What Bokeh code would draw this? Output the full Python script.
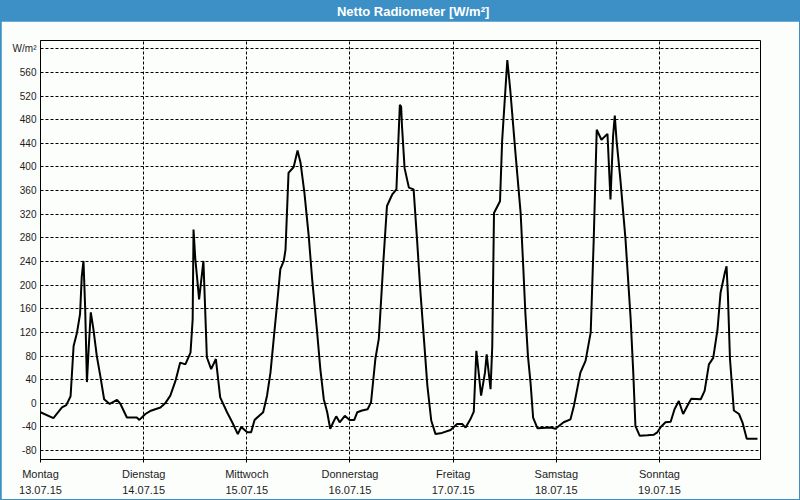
from bokeh.plotting import figure
from bokeh.models import Range1d, FixedTicker
from bokeh.layouts import column
from bokeh.embed import file_html
from bokeh.resources import INLINE
from bokeh.core.properties import value

title_text = "Netto Radiometer [W/m²]"
y_unit = "W/m²"

# hours since Monday 13.07.15 00:00
hours = [0, 3.0, 5.0, 6.0, 7.0, 7.7, 8.5, 9.2, 9.6, 10.0, 10.4, 10.8, 11.2, 11.7, 12.3, 13.1,
         13.9, 14.8, 16.1, 17.8, 18.6, 20.1, 22.4, 23.0, 24.4, 25.5, 27.9, 29.0, 30.2, 31.4,
         32.5, 33.7, 34.9, 35.4, 35.6, 36.0, 36.9, 37.9, 38.5, 38.7, 39.7, 40.8, 41.8, 43.4,
         44.6, 45.9, 46.7, 48.1, 49.0, 49.8, 51.8, 52.7, 53.5, 54.4, 55.0, 55.8, 56.6, 57.0,
         57.7, 58.9, 59.8, 60.5, 61.4, 62.4, 63.2, 64.3, 65.1, 65.9, 66.7, 67.4, 68.1, 68.8,
         69.6, 70.8, 71.9, 73.0, 73.7, 74.8, 76.1, 76.9, 77.9, 78.7, 79.2, 79.8, 80.6, 81.8,
         82.8, 83.2, 83.6, 83.9, 84.1, 84.7, 85.7, 86.8, 87.6, 88.4, 89.2, 90.0, 90.9, 91.9,
         93.4, 95.4, 96.9, 98.1, 98.9, 100.0, 100.8, 101.4, 102.5, 103.4, 103.8, 104.7, 105.1,
         105.5, 106.9, 107.4, 108.6, 108.9, 109.3, 110.5, 111.7, 112.3, 112.8, 113.4, 114.0,
         114.6, 115.6, 118.7, 119.8, 121.7, 123.3, 124.1, 125.6, 126.8, 128.0, 128.7, 129.4,
         130.5, 131.9, 132.6, 133.2, 133.6, 134.0, 134.9, 136.1, 137.3, 137.9, 138.4, 139.4,
         141.2, 142.7, 143.5, 144.3, 145.4, 146.6, 147.5, 148.5, 149.5, 150.5, 151.4, 153.6,
         154.5, 155.5, 156.5, 157.5, 158.2, 159.2, 159.6, 159.9, 160.4, 161.3, 162.5, 163.3,
         164.3, 166.8]

values = [-15, -25, -7, -3, 12, 97, 120, 151, 215, 241, 159, 36, 92, 154, 126, 80,
          47, 7, -1, 6, -1, -24, -24, -28, -18, -13, -7, 0, 13, 38,
          69, 66, 86, 142, 294, 246, 176, 241, 120, 78, 58, 75, 10, -15,
          -32, -52, -40, -49, -49, -28, -15, 13, 52, 120, 165, 227, 241, 260,
          390, 400, 428, 407, 356, 283, 210, 125, 58, 7, -15, -43, -32, -22,
          -32, -21, -28, -28, -15, -12, -10, 2, 75, 109, 170, 244, 334, 353,
          362, 435, 505, 502, 469, 398, 365, 362, 277, 187, 109, 30, -29, -52,
          -50, -45, -35, -35, -41, -27, -14, 89, 13, 52, 83, 24, 97,
          322, 342, 445, 581, 559, 529, 423, 322, 232, 153, 80, 35,
          -24, -42, -41, -43, -32, -27, -4, 52, 72, 120, 277, 463,
          446, 456, 345, 452, 487, 446, 379, 277, 142, 52, -38, -55,
          -54, -53, -49, -40, -32, -31, -10, 4, -18, -4, 8, 7,
          21, 66, 77, 125, 187, 221, 232, 187, 75, -12, -18, -32,
          -60, -60]

day_hours = [0, 24, 48, 72, 96, 120, 144]
day_names = ["Montag", "Dienstag", "Mittwoch", "Donnerstag", "Freitag", "Samstag", "Sonntag"]
day_dates = ["13.07.15", "14.07.15", "15.07.15", "16.07.15", "17.07.15", "18.07.15", "19.07.15"]
y_ticks = list(range(-80, 601, 40))

BLUE = "#3c90c6"
BG = "#fcfefc"
TXT = "#1c1c1c"
FONT = "Liberation Sans"

head = figure(width=798, height=20, x_range=Range1d(-39, 759), y_range=Range1d(0, 20),
              output_backend="svg", toolbar_location=None,
              x_axis_location=None, y_axis_location=None,
              min_border_left=39, min_border_right=39, min_border_top=0, min_border_bottom=0)
head.grid.visible = False
head.background_fill_color = None
head.border_fill_color = None
head.outline_line_color = None
head.text(x=[374], y=[10.5], text=[title_text], text_color="white",
          text_font=value(FONT), text_font_style="bold", text_font_size="13px",
          text_align="center", text_baseline="middle")

p = figure(width=798, height=478, x_range=Range1d(0, 167.5), y_range=Range1d(-95, 614),
           output_backend="svg", toolbar_location=None,
           min_border_left=39, min_border_right=39, min_border_top=19, min_border_bottom=39)
p.background_fill_color = BG
p.border_fill_color = BG
p.outline_line_color = "black"
p.outline_line_alpha = 1
p.outline_line_width = 1

p.line(hours, values, line_color="black", line_width=2)

p.xaxis.ticker = FixedTicker(ticks=day_hours)
p.xaxis.major_label_overrides = {h: f"{n}\n{d}" for h, n, d in zip(day_hours, day_names, day_dates)}
p.yaxis.ticker = FixedTicker(ticks=y_ticks)
p.yaxis.major_label_overrides = {t: (y_unit if t == 600 else str(t)) for t in y_ticks}

for ax in (p.xaxis[0], p.yaxis[0]):
    ax.axis_line_color = "black"
    ax.minor_tick_line_color = None
    ax.major_tick_line_color = "black"
    ax.major_tick_in = 0
    ax.major_label_text_font = FONT
    ax.major_label_text_color = TXT

p.xaxis.major_tick_out = 3
p.xaxis.major_label_standoff = 5
p.xaxis.major_label_text_font_size = "11px"
p.xaxis.major_label_text_line_height = 1.4
p.yaxis.major_tick_out = 0
p.yaxis.major_label_standoff = 4
p.yaxis.major_label_text_font_size = "10px"

for g in (p.xgrid[0], p.ygrid[0]):
    g.grid_line_color = "black"
    g.grid_line_dash = "3 2"
    g.grid_line_width = 1

layout = column(head, p, spacing=0, styles={"border": f"1px solid {BLUE}", "background": BLUE})

open("out.html", "w").write(file_html(layout, INLINE))
